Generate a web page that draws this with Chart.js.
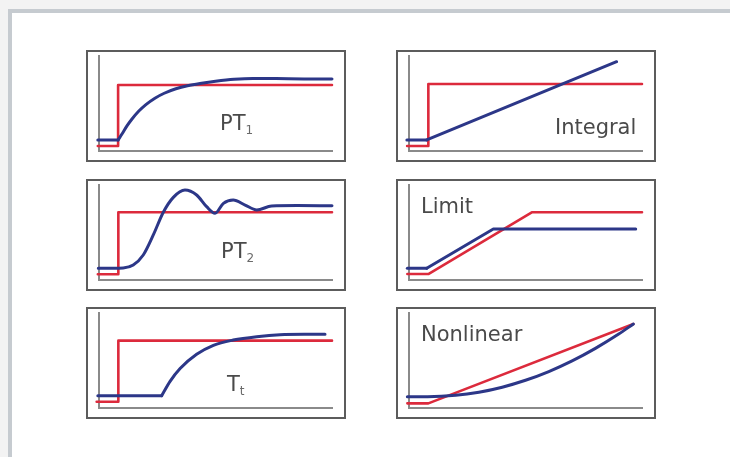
<!DOCTYPE html>
<html>
<head>
<meta charset="utf-8">
<script src="https://cdn.jsdelivr.net/npm/chart.js@4/dist/chart.umd.min.js"></script>
<style>
  html, body { margin: 0; padding: 0; }
  body { width: 730px; height: 457px; background: #f3f3f3; position: relative; overflow: hidden; font-family: "DejaVu Sans", sans-serif; }
  .sheet { position: absolute; left: 8px; top: 9px; width: 730px; height: 460px; background: #fff; border-left: 4px solid #c6cbd0; border-top: 4px solid #c6cbd0; }
  .panel { position: absolute; width: 260px; height: 112px; }
  .panel canvas { position: absolute; left: 0; top: 0; }
  .frame { position: absolute; left: 0; top: 0; right: 0; bottom: 0; border: 2px solid #5c5c5c; box-sizing: border-box; }
  .label { position: absolute; font-size: 21px; line-height: 21px; color: #4a4a4a; white-space: nowrap; }
  .label sub { font-size: 12px; vertical-align: -4px; line-height: 0; color: #6a6a6a; }
</style>
</head>
<body>
<div class="sheet"></div>

<div class="panel" style="left:86px; top:50px;">
  <canvas id="pt1" width="260" height="112"></canvas>
  <div class="frame"></div>
  <div class="label" style="left:134px; top:63px;">PT<sub>1</sub></div>
</div>
<div class="panel" style="left:396px; top:50px;">
  <canvas id="integral" width="260" height="112"></canvas>
  <div class="frame"></div>
  <div class="label" style="left:159px; top:67px;">Integral</div>
</div>
<div class="panel" style="left:86px; top:179px;">
  <canvas id="pt2" width="260" height="112"></canvas>
  <div class="frame"></div>
  <div class="label" style="left:135px; top:62px;">PT<sub>2</sub></div>
</div>
<div class="panel" style="left:396px; top:179px;">
  <canvas id="limit" width="260" height="112"></canvas>
  <div class="frame"></div>
  <div class="label" style="left:25px; top:17px;">Limit</div>
</div>
<div class="panel" style="left:86px; top:307px;">
  <canvas id="tt" width="260" height="112"></canvas>
  <div class="frame"></div>
  <div class="label" style="left:141px; top:67px;">T<sub>t</sub></div>
</div>
<div class="panel" style="left:396px; top:307px;">
  <canvas id="nonlinear" width="260" height="112"></canvas>
  <div class="frame"></div>
  <div class="label" style="left:25px; top:17px;">Nonlinear</div>
</div>

<script>
// Input (red) and response (blue) curves, [x, y] in axis units 0..100.
// Blue responses with a sharp corner are split into a flat lead-in and a smooth part.
const pt1Red = [[-0.5, 5.3], [8.2, 5.3], [8.2, 69.5], [100, 69.5]];
const pt1BlueFlat = [[-0.5, 11.6], [8.2, 11.6]];
const pt1Blue = [[8.2, 11.6], [10, 18.4], [12, 26.4], [14, 33.2], [17, 41.8], [20, 48.6], [24, 55.6],
    [28, 60.8], [33, 65.5], [38, 68.7], [44, 71.3], [50, 73.4], [58, 75.5], [66, 76.4], [76, 76.2], [88, 75.8], [100, 75.7]];

const integralRed = [[-0.8, 5.3], [8.3, 5.3], [8.3, 70.5], [100, 70.5]];
const integralBlueFlat = [[-0.9, 11.6], [7.6, 11.6]];
const integralBlue = [[7.6, 11.6], [89.1, 94]];

const pt2Red = [[-0.5, 6.0], [8.3, 6.0], [8.3, 71.3], [100, 71.3]];
const pt2BlueFlat = [];
const pt2Blue = [[-0.3, 12.3], [6, 12.3], [10.4, 12.6], [14.7, 15.8], [19, 26.3], [23.3, 47.4], [27.6, 71.3],
    [31.9, 87], [36.9, 94.7], [41.9, 89.5], [46.2, 77.2], [49.8, 70.2], [53.4, 80.7], [57.6, 84.2], [62.7, 78.9],
    [67.7, 73.7], [74.1, 77.9], [85, 78.3], [100, 78.2]];

const limitRed = [[-0.7, 6.3], [8.3, 6.3], [52.7, 71.3], [100, 71.3]];
const limitBlueFlat = [[-0.7, 12.3], [7.6, 12.3]];
const limitBlue = [[7.6, 12.3], [36.2, 53.7], [97.3, 53.7]];

const ttRed = [[-1, 6.6], [8.3, 6.6], [8.3, 70.9], [100, 70.9]];
const ttBlueFlat = [[-0.5, 12.9], [26.9, 12.9]];
const ttBlue = [[26.9, 12.9], [30.5, 28], [34.8, 41.5], [41.9, 56.5], [49.1, 66], [57.6, 71.5],
    [67.7, 75.1], [77.7, 77.2], [88, 77.6], [97, 77.6]];

const nonlinearRed = [[-0.7, 4.9], [8.3, 4.9], [96.3, 88.4]];
const nonlinearBlueFlat = [];
const nonlinearBlue = [[-0.7, 11.9], [8, 11.9], [20, 13.3], [30, 16.6], [40, 21.9], [50, 29.2], [60, 38.4],
    [70, 49.6], [80, 62.8], [90, 77.9], [96.3, 88.4]];

const colors = {
    red: '#dc2a3c',
    blue: '#2c3788',
    axis: '#8a8a8a'
};

function toPoints(pairs) {
    return pairs.map(p => ({ x: p[0], y: p[1] }));
}

function lineSet(pairs, color, width, smooth) {
    return {
        data: toPoints(pairs),
        borderColor: color,
        borderWidth: width,
        pointRadius: 0,
        cubicInterpolationMode: smooth ? 'monotone' : 'default',
        tension: 0,
        borderCapStyle: 'round',
        borderJoinStyle: 'round',
        clip: false
    };
}

function drawPanel(id, red, blueFlat, blue, smooth) {
    const axis = {
        type: 'linear',
        min: 0,
        max: 100,
        ticks: { display: false },
        grid: { display: false, drawTicks: false },
        border: { display: true, color: colors.axis, width: 2 }
    };
    new Chart(document.getElementById(id).getContext('2d'), {
        type: 'line',
        data: {
            datasets: [
                lineSet(blue, colors.blue, 3, smooth),
                lineSet(blueFlat, colors.blue, 3, false),
                lineSet(red, colors.red, 2.6, false)
            ]
        },
        options: {
            responsive: false,
            animation: false,
            events: [],
            layout: { padding: { left: 13, top: 6, right: 14, bottom: 11 } },
            plugins: {
                legend: { display: false },
                tooltip: { enabled: false }
            },
            scales: { x: axis, y: axis }
        }
    });
}

drawPanel('pt1', pt1Red, pt1BlueFlat, pt1Blue, true);
drawPanel('integral', integralRed, integralBlueFlat, integralBlue, false);
drawPanel('pt2', pt2Red, pt2BlueFlat, pt2Blue, true);
drawPanel('limit', limitRed, limitBlueFlat, limitBlue, false);
drawPanel('tt', ttRed, ttBlueFlat, ttBlue, true);
drawPanel('nonlinear', nonlinearRed, nonlinearBlueFlat, nonlinearBlue, true);
</script>
</body>
</html>
